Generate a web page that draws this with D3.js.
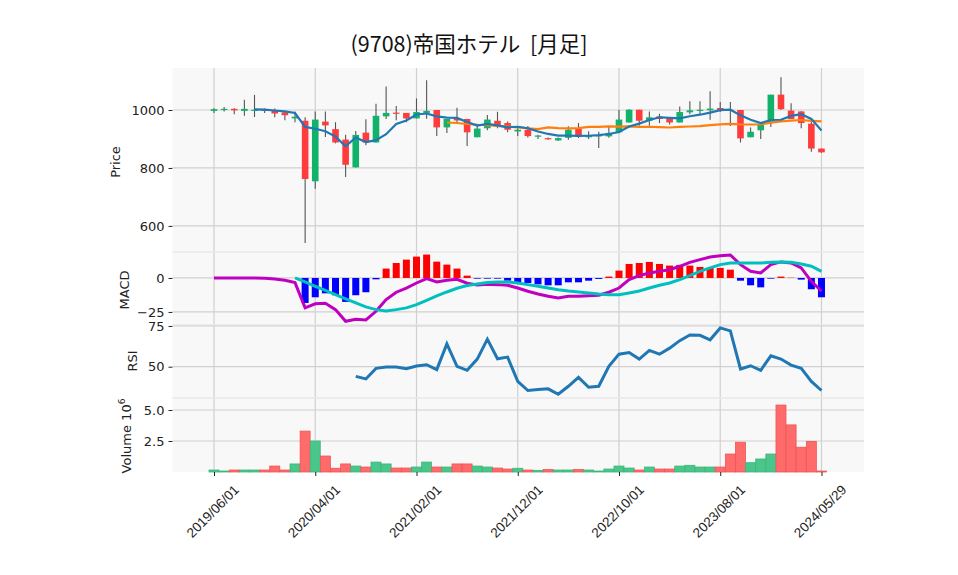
<!DOCTYPE html>
<html><head><meta charset="utf-8">
<script src="https://cdn.jsdelivr.net/npm/d3@7"></script>
<style>body{margin:0;background:#fff;font-family:"DejaVu Sans",sans-serif}</style>
</head><body><svg id="c" width="958" height="575"></svg>
<script>
const title = "(9708)帝国ホテル  [月足]";
const tickIdx = [0,10,20,30,40,50,60];
const tickLabels = ["2019/06/01","2020/04/01","2021/02/01","2021/12/01","2022/10/01","2023/08/01","2024/05/29"];
const open  = [997,1000,1004,997,1000,1001,1000,992,971,963,754,960,934,898,802,922,888,978,991,990,971,990,1000,940,970,969,906,937,963,955,926,932,908,903,895,904,935,906,909,909,923,957,1001,963,978,972,957,992,997,999,1007,1001,1000,906,930,959,1053,998,995,953,867];
const high  = [1006,1010,1006,1035,1052,1005,1005,995,995,975,995,995,958,915,928,968,1022,1081,1014,990,1040,1103,1000,969,1008,970,953,983,994,960,944,945,915,905,905,944,955,927,925,942,1000,1003,1001,995,987,972,1012,1030,1030,1065,1028,1028,1000,940,949,1053,1113,1023,997,960,867];
const low   = [990,995,985,980,976,990,975,965,958,541,728,907,885,769,802,878,888,969,965,958,971,970,910,921,953,876,906,930,937,923,910,905,900,897,893,897,903,900,869,904,920,957,946,946,955,950,957,985,986,966,993,945,888,906,900,941,1000,969,937,856,852];
const close = [1003,1004,999,1004,1001,1000,988,982,977,762,967,947,888,811,914,888,980,990,989,971,993,997,940,969,964,923,936,967,944,932,932,910,912,901,903,932,907,913,913,921,967,1001,963,975,969,957,993,999,1001,1005,1001,999,902,925,949,1053,1003,969,955,867,854];
const volume= [0.16,0.08,0.16,0.16,0.16,0.16,0.48,0.16,0.65,3.3,2.5,1.29,0.3,0.65,0.48,0.4,0.8,0.65,0.32,0.32,0.4,0.8,0.4,0.4,0.65,0.65,0.48,0.4,0.32,0.24,0.3,0.16,0.13,0.2,0.16,0.16,0.2,0.16,0.08,0.24,0.48,0.32,0.16,0.4,0.24,0.24,0.48,0.54,0.4,0.4,0.4,1.45,2.4,0.75,1.05,1.45,5.4,3.8,2.0,2.47,0.08];
const macd  = [0,0,0,0,0,-0.2,-0.7,-1.7,-3.4,-22,-19,-18.6,-23.3,-31.9,-30.4,-30.9,-24.5,-15.9,-10.5,-7.4,-3.7,-0.5,-2.9,-1.7,-1,-3.9,-5.1,-4.7,-4.9,-5.4,-7.4,-9.8,-11.8,-13.5,-14.7,-13.5,-13.5,-13,-12.7,-10.5,-7.4,-1.2,1.7,3.7,4.9,6.1,8.6,11.5,13.5,15.4,16.4,16.9,9.8,4.9,3.7,9.8,11.8,11,7.4,-2.5,-9.8];
const signal= [null,null,null,null,null,null,null,null,0,-2.9,-6.1,-9.1,-12.3,-15.4,-18.4,-21.3,-23.3,-24.3,-23.3,-22,-19.6,-16.4,-13.2,-10.3,-7.6,-5.6,-4.4,-3.4,-2.9,-2.9,-3.7,-4.9,-6.1,-7.4,-8.6,-9.6,-10.3,-11,-11.8,-12.3,-12.3,-11,-9.6,-7.4,-5.4,-3.7,-1.2,1.7,4.9,7.4,9.8,11,11,11,11,11.5,11.8,11.5,10.3,8.6,4.9];
const hist  = [null,null,null,null,null,null,null,null,0,-18.4,-14.2,-11.3,-12.7,-17.6,-12.7,-10.5,-1,6.9,11,13.5,15.7,17.2,12,9.8,6.9,1.7,-0.5,-0.5,-0.5,-2,-3.7,-3.7,-4.7,-5.4,-5.4,-3.2,-3.2,-2,-0.7,1,5.4,10.3,11,11.8,10.3,9.1,9.6,9.1,8.1,7.4,7.4,6.1,-2,-5.4,-6.9,-0.5,1,0.2,-1.2,-8.3,-14.2];
const rsi   = [null,null,null,null,null,null,null,null,null,null,null,null,null,null,44.1,42.5,49,49.8,49.8,48.8,50.4,51.2,48.2,64,50.2,47.8,54.7,66.9,54.9,55.9,41,35.4,36,36.4,33.1,38,43.5,37.4,38,50.2,57.7,58.7,54.7,60,57.7,61.4,66,69.5,69.3,66.5,73.8,72,48.6,50.6,47.8,56.7,54.7,51,49,41,35.4];

const svg = d3.select("#c");
const L = 172.5, R = 864;
const x = d3.scaleLinear().domain([-4.1, 64.2]).range([L, R]);
const bw = 6.6;

const panels = [
  {top:68, bot:252}, {top:252, bot:325}, {top:325, bot:398}, {top:398, bot:472}
];
const yP = d3.scaleLinear().domain([510,1145]).range([252,68]);
const yM = d3.scaleLinear().domain([-34.6,19.1]).range([325,252]);
const yR = d3.scaleLinear().domain([30.8,75.6]).range([398,325]);
const yV = d3.scaleLinear().domain([0,5.97]).range([472,398]);

panels.forEach(p => svg.append("rect").attr("x",L).attr("y",p.top).attr("width",R-L).attr("height",p.bot-p.top).attr("fill","#f8f8f8"));
panels.forEach(p => tickIdx.forEach(i => svg.append("line").attr("x1",x(i)).attr("x2",x(i)).attr("y1",p.top).attr("y2",p.bot).attr("stroke","#d0d0d0").attr("stroke-width",1.2)));
[252,325,398].forEach(y=>svg.append("line").attr("x1",L).attr("x2",R).attr("y1",y).attr("y2",y).attr("stroke","#e8e8e8").attr("stroke-width",1.5));

function yaxis(scale, ticks, fmt){
  const g = svg.append("g").attr("transform",`translate(${L},0)`)
    .call(d3.axisLeft(scale).tickValues(ticks).tickFormat(fmt).tickSize(4).tickPadding(4));
  g.select(".domain").remove();
  g.selectAll("text").attr("font-size",13).attr("fill","#222").attr("font-family","DejaVu Sans");
  g.selectAll(".tick line").attr("stroke","#222");
  ticks.forEach(t => svg.append("line").attr("x1",L).attr("x2",R).attr("y1",scale(t)).attr("y2",scale(t)).attr("stroke","#d0d0d0").attr("stroke-width",1.2));
}
yaxis(yP,[600,800,1000],d3.format("d"));
yaxis(yM,[0,-25],d=>d<0?"\u221225":"0");
yaxis(yR,[50,75],d3.format("d"));
yaxis(yV,[2.5,5.0],d3.format(".1f"));

function ylabel(text, cx, cy){
  svg.append("text").attr("transform",`translate(${cx},${cy}) rotate(-90)`).attr("text-anchor","middle")
    .attr("font-size",13).attr("fill","#222").text(text);
}
ylabel("Price",120,162);
ylabel("MACD",129,290);
ylabel("RSI",137,361);
const vl = svg.append("text").attr("transform","translate(131,436) rotate(-90)").attr("text-anchor","middle").attr("font-size",13).attr("fill","#222");
vl.append("tspan").text("Volume  10");
vl.append("tspan").attr("font-size",9).attr("dy",-6).text("6");

const up = "#12b26b", dn = "#ff3b3b";
const idx = d3.range(close.length);
idx.forEach(i=>{
  svg.append("line").attr("x1",x(i)).attr("x2",x(i)).attr("y1",yP(high[i])).attr("y2",yP(low[i])).attr("stroke","#555").attr("stroke-width",1.1);
  const t = Math.max(open[i],close[i]), b = Math.min(open[i],close[i]);
  svg.append("rect").attr("x",x(i)-bw/2).attr("width",bw).attr("y",yP(t)).attr("height",Math.max(1.2,yP(b)-yP(t)))
    .attr("fill",close[i]>=open[i]?up:dn);
});
function sma(n){return idx.map(i=> i<n-1?null:d3.mean(close.slice(i-n+1,i+1)));}
const line = (ys) => d3.line().defined(d=>d[1]!=null).x(d=>x(d[0])).y(d=>ys(d[1]));
svg.append("path").attr("d",line(yP)(idx.map(i=>[i,sma(24)[i]]))).attr("fill","none").attr("stroke","#ff7f0e").attr("stroke-width",2.2);
svg.append("path").attr("d",line(yP)(idx.map(i=>[i,sma(5)[i]]))).attr("fill","none").attr("stroke","#1f77b4").attr("stroke-width",2.2);

idx.forEach(i=>{ if(hist[i]==null) return;
  const v=hist[i]; svg.append("rect").attr("x",x(i)-3.5).attr("width",7).attr("y",yM(Math.max(0,v))).attr("height",Math.abs(yM(v)-yM(0)))
   .attr("fill",v>=0?"#ff0000":"#0000ff");});
svg.append("path").attr("d",line(yM)(idx.map(i=>[i,macd[i]]))).attr("fill","none").attr("stroke","#bf00bf").attr("stroke-width",3);
svg.append("path").attr("d",line(yM)(idx.map(i=>[i,signal[i]]))).attr("fill","none").attr("stroke","#00bfbf").attr("stroke-width",3);

svg.append("path").attr("d",line(yR)(idx.map(i=>[i,rsi[i]]))).attr("fill","none").attr("stroke","#1f77b4").attr("stroke-width",3);

idx.forEach(i=>{ const v=volume[i]; const c = close[i]>=open[i];
  svg.append("rect").attr("x",x(i)-5).attr("width",10).attr("y",yV(v)).attr("height",yV(0)-yV(v))
    .attr("fill",c?"#4bc68b":"#ff6b6b").attr("stroke",c?"#3bb57b":"#ee5555").attr("stroke-width",0.8);});

const gx = svg.append("g").attr("transform","translate(0,472)")
  .call(d3.axisBottom(x).tickValues(tickIdx).tickFormat((d,k)=>tickLabels[k]).tickSize(4));
gx.select(".domain").remove();
gx.selectAll(".tick line").attr("stroke","#222");
gx.selectAll("text").attr("font-size",13.5).attr("fill","#222").attr("text-anchor","middle")
  .attr("y",0).attr("dy",0).attr("transform","translate(-1,40) rotate(-45)").attr("dominant-baseline","middle");

svg.append("text").attr("x",469).attr("y",52).attr("text-anchor","middle").attr("font-size",21.5)
  .attr("font-family","'Noto Sans CJK JP',sans-serif").attr("fill","#111").style("white-space","pre").text(title);
</script></body></html>
